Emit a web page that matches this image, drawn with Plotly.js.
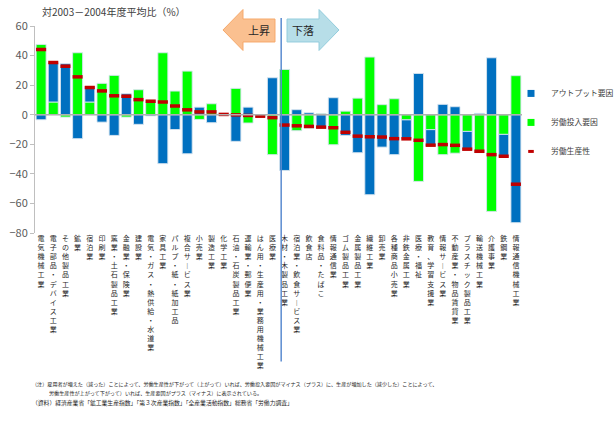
<!DOCTYPE html>
<html>
<head>
<meta charset="utf-8">
<script src="https://cdn.plot.ly/plotly-3.0.1.min.js"></script>
<style>
  html, body { margin: 0; padding: 0; background: #ffffff; }
  #chart { width: 615px; height: 426px; }
</style>
</head>
<body>
<div id="chart"></div>
<script>
// ---- data ----
const categories = [
  "電気機械工業", "電子部品・デバイス工業", "その他製品工業", "鉱業", "宿泊業",
  "印刷業", "窯業・土石製品工業", "金融業・保険業", "建設業", "電気・ガス・熱供給・水道業",
  "家具工業", "パルプ・紙・紙加工品", "複合サービス業", "小売業", "製造工業",
  "化学工業", "石油・石炭製品工業", "運輸業・郵便業", "はん用・生産用・業務用機械工業", "医療業",
  "木材・木製品工業", "宿泊業・飲食サービス業", "飲食店", "食料品・たばこ", "情報通信業",
  "ゴム製品工業", "金属製品工業", "繊維工業", "卸売業", "各種商品小売業",
  "非鉄金属工業", "医療・福祉", "教育、学習支援業", "情報サービス業", "不動産業・物品賃貸業",
  "プラスチック製品工業", "輸送機械工業", "介護事業", "鉄鋼業", "情報通信機械工業"
];

// 労働投入要因 (green)
const laborInput = [
  47.5, 8.6, -1.6, 41.9, 8.6,
  21.2, 26.6, -1.6, 16.9, 10.0,
  41.9, 16.0, 29.5, -3.2, 7.4,
  0.6, 17.8, -5.6, -0.6, -27.0,
  30.6, -10.8, -9.2, 0.8, -20.3,
  2.4, 11.2, 39.0, 6.8, 10.8,
  -3.5, -45.1, -10.1, -27.0, -26.0,
  -11.3, -25.7, -65.4, -13.3, 26.4
];

// アウトプット要因 (blue)
const outputFactor = [
  -3.4, 26.5, 34.5, -16.2, 10.5,
  -5.0, -14.0, 14.2, -6.5, -0.8,
  -33.1, -10.0, -26.4, 5.1, -5.4,
  -0.4, -18.0, 5.1, -0.4, 25.0,
  -37.7, 3.4, 1.3, -9.3, 11.5,
  -14.0, -25.7, -54.1, -21.9, -27.0,
  -12.5, 27.9, -11.0, 7.0, 5.4,
  -12.6, 0.9, 38.5, -14.8, -73.0
];

// 労働生産性 (red dash)
const productivity = [
  44.1, 35.3, 32.8, 25.6, 18.4,
  16.1, 12.8, 12.5, 10.2, 9.1,
  8.6, 5.9, 3.3, 1.9, 1.9,
  0.2, -0.1, -0.5, -1.0, -2.0,
  -7.0, -7.5, -7.9, -8.4, -8.8,
  -11.9, -14.5, -14.9, -15.1, -16.2,
  -16.3, -17.3, -20.6, -20.2, -20.7,
  -23.3, -24.7, -27.0, -28.1, -47.0
];

const seriesNames = ["アウトプット要因", "労働投入要因", "労働生産性"];
const yTickVals = [-80, -60, -40, -20, 0, 20, 40, 60];
const yTitle = "対2003－2004年度平均比（%）";
const upLabel = "上昇";
const downLabel = "下落";
const notes = [
  "（注）雇用者が増えた（減った）ことによって、労働生産性が下がって（上がって）いれば、労働投入要因がマイナス（プラス）に、生産が増加した（減少した）ことによって、",
  "労働生産性が上がって下がって）いれば、生産要因がプラス（マイナス）に表示されている。",
  "（資料）経済産業省「鉱工業生産指数」「第３次産業指数」「全産業活動指数」総務省「労働力調査」"
];

// ---- layout helpers ----
const FONT = '"Noto Sans CJK JP", "Noto Sans", sans-serif';
const W = 615, H = 426;
const M = {l: 35, r: 93, t: 26, b: 192.7, autoexpand: false};
const PW = W - M.l - M.r, PH = H - M.t - M.b;
const px = x => (x - M.l) / PW;
const py = y => (H - M.b - y) / PH;

const BLUE = '#0070C0', GREEN = '#00FF00', RED = '#C00000';

// vertical (tategaki-like) tick text: one character per line
const verticalText = s => s.split('').map(c => (c === 'ー' ? '︱' : c)).join('<br>');
const tickText = categories.map(verticalText);

function pathOf(pts) {
  return 'M' + pts.map(p => px(p[0]).toFixed(4) + ',' + py(p[1]).toFixed(4)).join(' L') + ' Z';
}
const upArrow = pathOf([[223, 30], [243, 9.5], [243, 19], [275, 19], [275, 42], [243, 42], [243, 50.5]]);
const downArrow = pathOf([[287, 19], [319, 19], [319, 9.5], [339, 30], [319, 50.5], [319, 42], [287, 42]]);

const barLine = {color: 'rgba(215,228,240,0.9)', width: 1};

const traces = [
  {
    type: 'bar', name: seriesNames[1], x: categories, y: laborInput,
    marker: {color: GREEN, line: barLine},
    showlegend: false, legendgroup: 'g2', hoverinfo: 'skip'
  },
  {
    type: 'bar', name: seriesNames[0], x: categories, y: outputFactor,
    marker: {color: BLUE, line: barLine},
    showlegend: false, legendgroup: 'g1', hoverinfo: 'skip'
  },
  {
    type: 'scatter', mode: 'markers', name: seriesNames[2], x: categories, y: productivity,
    marker: {symbol: 'line-ew', size: 7.2, color: RED, line: {color: RED, width: 3.5}},
    showlegend: false, legendgroup: 'g3', hoverinfo: 'skip'
  },
  // legend keys (compact symbols like the reference)
  {
    type: 'scatter', mode: 'markers', name: seriesNames[0], x: [null], y: [null],
    marker: {symbol: 'square', size: 7, color: BLUE},
    legendrank: 1, legendgroup: 'g1', hoverinfo: 'skip'
  },
  {
    type: 'scatter', mode: 'markers', name: seriesNames[1], x: [null], y: [null],
    marker: {symbol: 'square', size: 7, color: GREEN},
    legendrank: 2, legendgroup: 'g2', hoverinfo: 'skip'
  },
  {
    type: 'scatter', mode: 'markers', name: seriesNames[2], x: [null], y: [null],
    marker: {symbol: 'line-ew', size: 4, color: RED, line: {color: RED, width: 3}},
    legendrank: 3, legendgroup: 'g3', hoverinfo: 'skip'
  }
];

const layout = {
  width: W, height: H,
  margin: M,
  paper_bgcolor: '#ffffff', plot_bgcolor: 'rgba(0,0,0,0)',
  font: {family: FONT, color: '#404040', size: 10},
  barmode: 'relative',
  bargap: 0.18,
  showlegend: true,
  legend: {
    x: px(511), xanchor: 'left', y: py(79), yanchor: 'top',
    font: {size: 7.8, color: '#404040', family: FONT},
    traceorder: 'grouped', tracegroupgap: 10,
    bgcolor: 'rgba(0,0,0,0)', itemwidth: 30
  },
  xaxis: {
    type: 'category', range: [-0.5, categories.length - 0.5],
    tickmode: 'array', tickvals: categories, ticktext: tickText,
    tickangle: 0, tickfont: {size: 7, color: '#262626', family: FONT},
    showline: false, showgrid: false, zeroline: false, ticks: '', fixedrange: true
  },
  yaxis: {
    range: [-80, 60], tickmode: 'array', tickvals: yTickVals,
    tickfont: {size: 11, color: '#595959', family: FONT},
    showline: true, linecolor: '#BFBFBF', linewidth: 1,
    ticks: 'outside', ticklen: 4, tickcolor: '#BFBFBF',
    showgrid: false, zeroline: false, fixedrange: true
  },
  shapes: [
    {type: 'line', xref: 'paper', x0: 0, x1: 1, yref: 'y', y0: 0, y1: 0,
     line: {color: '#B0B0B0', width: 1.5}, layer: 'above'},
    {type: 'line', xref: 'x', x0: 19.72, x1: 19.72, yref: 'paper', y0: py(362), y1: py(18),
     line: {color: '#5B8BD0', width: 1.5}, layer: 'above'},
    {type: 'path', xref: 'paper', yref: 'paper', path: upArrow,
     fillcolor: '#FAC090', line: {color: '#F6A96B', width: 1}, layer: 'above'},
    {type: 'path', xref: 'paper', yref: 'paper', path: downArrow,
     fillcolor: '#B7DEE8', line: {color: '#93CDDD', width: 1}, layer: 'above'}
  ],
  annotations: [
    {text: yTitle, xref: 'paper', yref: 'paper', x: px(40), y: py(11),
     xanchor: 'left', yanchor: 'middle', showarrow: false,
     font: {size: 10, color: '#404040', family: FONT}},
    {text: upLabel, xref: 'paper', yref: 'paper', x: px(259), y: py(30.5),
     xanchor: 'center', yanchor: 'middle', showarrow: false,
     font: {size: 11, color: '#262626', family: FONT}},
    {text: downLabel, xref: 'paper', yref: 'paper', x: px(303), y: py(30.5),
     xanchor: 'center', yanchor: 'middle', showarrow: false,
     font: {size: 11, color: '#262626', family: FONT}},
    {text: notes[0], xref: 'paper', yref: 'paper', x: px(30), y: py(385),
     xanchor: 'left', yanchor: 'middle', showarrow: false,
     font: {size: 5.1, color: '#262626', family: FONT}},
    {text: notes[1], xref: 'paper', yref: 'paper', x: px(46.5), y: py(394),
     xanchor: 'left', yanchor: 'middle', showarrow: false,
     font: {size: 5.1, color: '#262626', family: FONT}},
    {text: notes[2], xref: 'paper', yref: 'paper', x: px(30), y: py(403.5),
     xanchor: 'left', yanchor: 'middle', showarrow: false,
     font: {size: 5.8, color: '#262626', family: FONT}}
  ]
};

Plotly.newPlot('chart', traces, layout, {displayModeBar: false, staticPlot: true});
</script>
</body>
</html>
